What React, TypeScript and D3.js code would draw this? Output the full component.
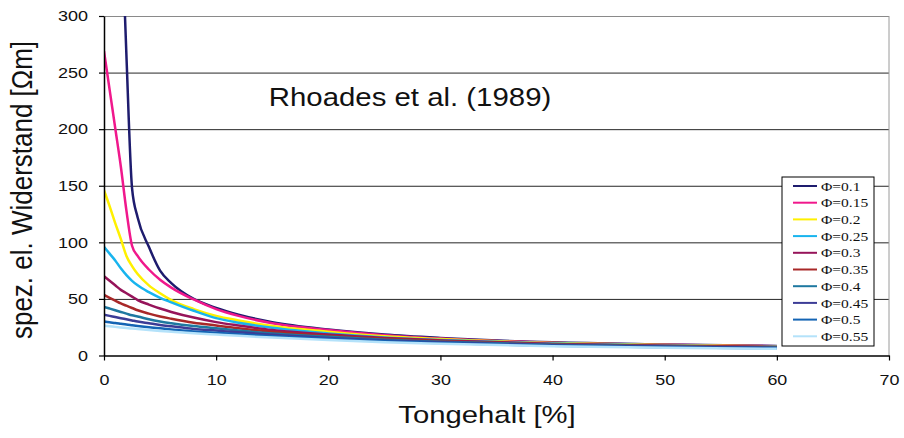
import React, { useEffect, useRef } from 'react';
import * as d3 from 'd3';

// Tongehalt [%] sample positions shared by all curves
const tongehalt = [0, 0.5, 1, 1.5, 2, 2.5, 3, 4, 5, 6, 8, 10, 12, 15, 20, 25, 30, 40, 50, 60];

// spez. el. Widerstand [Ohm m] per porosity
const phi010 = [900, 700, 550, 400, 265, 148, 122, 96, 75, 64, 50, 42, 36, 29.5, 23, 18.5, 15.5, 11.6, 9.8, 8.4];
const phi015 = [269, 235, 201, 167, 128, 97, 88, 76, 67, 60, 49.5, 41, 35, 28.5, 22.5, 18, 15, 11.3, 9.5, 8.2];
const phi020 = [146, 132, 117, 103, 88, 79, 72, 62, 55, 49, 41, 35, 31, 26, 21, 17, 14.5, 11, 9.2, 8];
const phi025 = [96, 90, 84, 77, 71, 66, 62, 56, 51, 47, 39.5, 33, 29, 24.5, 19.5, 16, 13.8, 10.5, 8.8, 7.7];
const phi030 = [70, 66, 62, 58, 55, 52, 49, 45, 41.5, 38.5, 33.5, 29.5, 26.5, 22.5, 18.5, 15.5, 13.3, 10.2, 8.6, 7.5];
const phi035 = [53.5, 51, 48.5, 46, 44, 42, 40, 37, 34.5, 32.5, 29, 26.5, 24, 21, 17.5, 14.8, 12.8, 9.9, 8.3, 7.3];
const phi040 = [43, 41.5, 40, 38.5, 37, 35.5, 34.5, 32, 30, 28.5, 26, 24, 22, 19.5, 16.5, 14, 12.2, 9.5, 8, 7];
const phi045 = [36, 35, 34, 33, 32, 31, 30, 28.5, 27, 25.8, 23.5, 22, 20.5, 18.3, 15.5, 13.3, 11.6, 9.1, 7.7, 6.7];
const phi050 = [30, 29.3, 28.7, 28, 27.3, 26.7, 26.1, 25, 24, 23, 21.3, 20, 18.8, 17, 14.5, 12.5, 11, 8.6, 7.2, 6.3];
const phi055 = [26.3, 25.8, 25.3, 24.8, 24.3, 23.8, 23.4, 22.5, 21.7, 21, 19.6, 18.5, 17.4, 15.8, 13.6, 11.8, 10.4, 8.2, 6.8, 5.9];

const seriesNames = ['\u03A6=0.1', '\u03A6=0.15', '\u03A6=0.2', '\u03A6=0.25', '\u03A6=0.3', '\u03A6=0.35', '\u03A6=0.4', '\u03A6=0.45', '\u03A6=0.5', '\u03A6=0.55'];
const seriesValues = [phi010, phi015, phi020, phi025, phi030, phi035, phi040, phi045, phi050, phi055];
const seriesColors = ['#1e1c6e', '#f0188c', '#fff000', '#18b4ee', '#96145a', '#a82828', '#1e78a0', '#3c3c96', '#1464b4', '#b4e2fa'];

const yTicks = [0, 50, 100, 150, 200, 250, 300];
const xTicks = [0, 10, 20, 30, 40, 50, 60, 70];

const WIDTH = 904;
const HEIGHT = 438;

export default function App() {
  const svgRef = useRef<SVGSVGElement>(null);

  useEffect(() => {
    if (!svgRef.current) return;
    const svg = d3.select(svgRef.current);
    svg.selectAll('*').remove();

    const sans = '"Liberation Sans", Arial, sans-serif';
    const serif = '"Liberation Serif", "Times New Roman", serif';

    const x = d3.scaleLinear().domain([0, 70]).range([104, 889]);
    const y = d3.scaleLinear().domain([0, 300]).range([355.5, 16]);

    svg.append('rect').attr('width', WIDTH).attr('height', HEIGHT).attr('fill', '#fff');

    // grid lines
    svg.append('g')
      .attr('transform', `translate(${x(0)},0)`)
      .call(d3.axisLeft(y).tickValues(yTicks.filter(t => t > 0)).tickSize(-(x(70) - x(0))).tickFormat(() => ''))
      .call(g => g.select('.domain').remove())
      .selectAll('line')
      .attr('stroke', (d: any) => (d === 300 ? '#8a8a8a' : '#262626'))
      .attr('stroke-width', 1);

    // right border of the plot area
    svg.append('line')
      .attr('x1', x(70)).attr('x2', x(70))
      .attr('y1', y(300)).attr('y2', y(0))
      .attr('stroke', '#9a9a9a');

    // curves
    svg.append('clipPath').attr('id', 'plot-clip')
      .append('rect')
      .attr('x', x(0)).attr('y', y(300))
      .attr('width', x(70) - x(0)).attr('height', y(0) - y(300));

    const line = d3.line<number>()
      .x((_, i) => x(tongehalt[i]))
      .y(d => y(d))
      .curve(d3.curveMonotoneX);

    const curves = svg.append('g').attr('clip-path', 'url(#plot-clip)');
    seriesValues.forEach((vals, i) => {
      curves.append('path')
        .attr('d', line(vals))
        .attr('fill', 'none')
        .attr('stroke', seriesColors[i])
        .attr('stroke-width', 2.5);
    });

    // y axis
    const yAxis = svg.append('g')
      .attr('transform', `translate(${x(0)},0)`)
      .call(d3.axisLeft(y).tickValues(yTicks).tickSize(5).tickSizeOuter(0));
    yAxis.select('.domain').attr('stroke', '#000').attr('stroke-width', 1.5);
    yAxis.selectAll('line').attr('stroke', '#000').attr('stroke-width', 1.2);
    yAxis.selectAll('text')
      .attr('x', 0)
      .attr('transform', 'translate(-16,0) scale(1.2,1)')
      .style('font-family', sans)
      .style('font-size', '15px')
      .attr('fill', '#111');

    // x axis
    const xAxis = svg.append('g')
      .attr('transform', `translate(0,${y(0)})`)
      .call(d3.axisBottom(x).tickValues(xTicks).tickSize(5).tickSizeOuter(0));
    xAxis.select('.domain').attr('stroke', '#000').attr('stroke-width', 1.5);
    xAxis.selectAll('line').attr('stroke', '#000').attr('stroke-width', 1.2);
    xAxis.selectAll('text')
      .attr('y', 0)
      .attr('dy', 0)
      .attr('transform', 'translate(0,29) scale(1.28,1)')
      .style('font-family', sans)
      .style('font-size', '14px')
      .attr('fill', '#111');

    // axis titles
    svg.append('text')
      .attr('transform', 'translate(22,190) scale(1.15,1) rotate(-90)')
      .attr('text-anchor', 'middle')
      .attr('dominant-baseline', 'central')
      .style('font-family', sans)
      .style('font-size', '26px')
      .attr('fill', '#111')
      .text('spez. el. Widerstand [\u03A9m]');

    svg.append('text')
      .attr('transform', 'translate(487,423) scale(1.22,1)')
      .attr('text-anchor', 'middle')
      .style('font-family', sans)
      .style('font-size', '24px')
      .attr('fill', '#111')
      .text('Tongehalt [%]');

    svg.append('text')
      .attr('transform', 'translate(410,106) scale(1.13,1)')
      .attr('text-anchor', 'middle')
      .style('font-family', sans)
      .style('font-size', '26px')
      .attr('fill', '#111')
      .text('Rhoades et al. (1989)');

    // legend
    const legend = svg.append('g').attr('transform', 'translate(782,177)');
    legend.append('rect')
      .attr('width', 92).attr('height', 169)
      .attr('fill', '#fff')
      .attr('stroke', '#000')
      .attr('stroke-width', 1);
    seriesNames.forEach((name, i) => {
      const row = legend.append('g').attr('transform', `translate(0,${9 + i * 16.7})`);
      row.append('line')
        .attr('x1', 11).attr('x2', 35)
        .attr('stroke', seriesColors[i])
        .attr('stroke-width', 2);
      row.append('text')
        .attr('transform', 'translate(39,0) scale(1.15,1)')
        .attr('dominant-baseline', 'central')
        .style('font-family', serif)
        .style('font-size', '13.5px')
        .attr('fill', '#111')
        .text(name);
    });
  }, []);

  return (
    <svg
      ref={svgRef}
      width={WIDTH}
      height={HEIGHT}
      style={{ position: 'absolute', left: 0, top: 0, display: 'block' }}
    />
  );
}
